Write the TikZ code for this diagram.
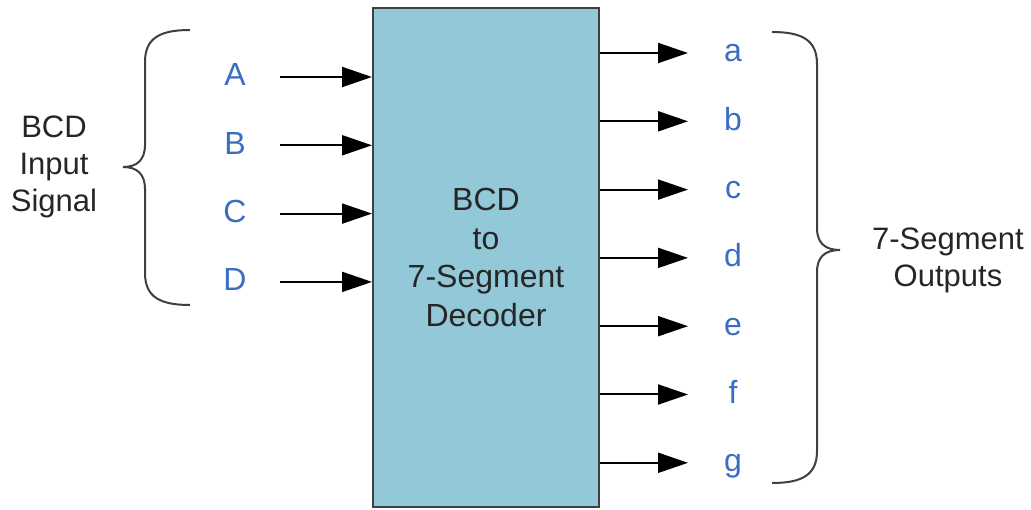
\documentclass[tikz,border=0pt]{standalone}
\usepackage{fontspec}
\setmainfont{Liberation Sans}
\usetikzlibrary{arrows.meta}
\definecolor{decoderblue}{RGB}{146,200,216}
\definecolor{pinblue}{RGB}{58,110,196}
\definecolor{boxgray}{RGB}{60,64,66}
\begin{document}
\begin{tikzpicture}[x=1pt,y=-1pt]
  \tikzstyle{decoder}=[draw=boxgray,line width=2pt,fill=decoderblue,minimum width=226pt,minimum height=499pt,inner sep=0pt,align=center,text=black!85,font=\fontsize{32}{38.5}\selectfont];
  \tikzstyle{pin}=[text=pinblue,font=\fontsize{32}{38}\selectfont,anchor=base,inner sep=0pt];
  \tikzstyle{wire}=[line width=2pt,-{Triangle[length=30pt,width=20pt]}];
  \tikzstyle{brace}=[line width=2pt,draw=boxgray];
  \tikzstyle{caption}=[align=center,text=black!85,font=\fontsize{31}{37}\selectfont];

  \useasboundingbox (0,0) rectangle (1031,510);

  \node[decoder] (dec) at (486,257.5) {BCD\\to\\7-Segment\\Decoder};

  % inputs
  \foreach \pin [count=\i from 0] in {A,B,C,D} {
    \node[pin] (l\pin) at (235, 86+68.3*\i) {\pin};
    \coordinate (in\pin) at (280, 77+68.3*\i);
    \draw[wire] (in\pin) -- (in\pin -| dec.west);
  }

  % outputs
  \foreach \pin [count=\i from 0] in {a,...,g} {
    \coordinate (out\pin) at (688, 53+68.3*\i);
    \draw[wire] (out\pin -| dec.east) -- (out\pin);
    \node[pin] (l\pin) at (733, 62+68.3*\i) {\pin};
  }

  % braces
  \draw[brace] (190,30) .. controls (160,30) and (145,38) .. (145,62) -- (145,145)
    .. controls (145,160) and (137,167) .. (123,167)
    .. controls (137,167) and (145,174) .. (145,189) -- (145,273)
    .. controls (145,297) and (160,305) .. (190,305);
  \draw[brace] (772,32) .. controls (802,32) and (817,40) .. (817,64) -- (817,228)
    .. controls (817,243) and (825,250) .. (840,250)
    .. controls (825,250) and (817,257) .. (817,272) -- (817,451)
    .. controls (817,475) and (802,483) .. (772,483);

  \node[caption] (inputs) at (54,167) {BCD\\Input\\Signal};
  \node[caption] (outputs) at (948,260) {7-Segment\\Outputs};
\end{tikzpicture}
\end{document}
